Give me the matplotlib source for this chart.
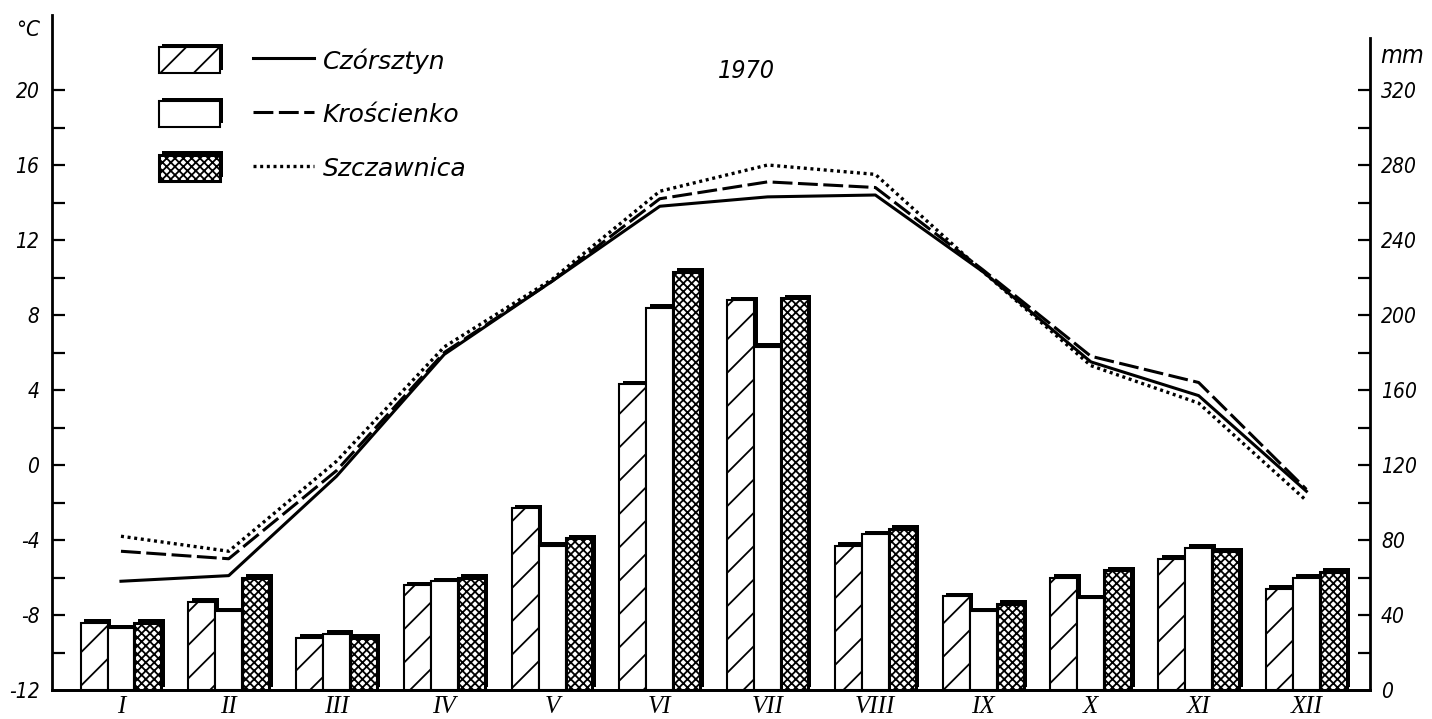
import numpy as np
import matplotlib
matplotlib.use('Agg')
import matplotlib.pyplot as plt
import matplotlib.patheffects as pe
from matplotlib.legend_handler import HandlerTuple

# Months (roman numerals) and stations
months = ['I', 'II', 'III', 'IV', 'V', 'VI', 'VII', 'VIII', 'IX', 'X', 'XI', 'XII']
stations = ['Czórsztyn', 'Krościenko', 'Szczawnica']

# Monthly precipitation (mm)
czorsztyn_mm = [36, 47, 28, 56, 97, 163, 208, 77, 50, 60, 70, 54]
kroscienko_mm = [33, 42, 30, 58, 77, 204, 183, 83, 42, 49, 76, 60]
szczawnica_mm = [36, 60, 28, 60, 81, 223, 209, 86, 46, 64, 74, 63]

# Monthly mean temperature (deg C)
czorsztyn_t = [-6.2, -5.9, -0.6, 5.9, 9.8, 13.8, 14.3, 14.4, 10.3, 5.5, 3.7, -1.4]
kroscienko_t = [-4.6, -5.0, -0.3, 6.0, 9.8, 14.2, 15.1, 14.8, 10.4, 5.8, 4.4, -1.3]
szczawnica_t = [-3.8, -4.6, 0.2, 6.3, 9.9, 14.6, 16.0, 15.5, 10.3, 5.3, 3.3, -1.9]

year = '1970'

plt.rcParams['hatch.linewidth'] = 1.3

lab_font = dict(family='DejaVu Sans', style='italic', stretch='condensed')
leg_font = dict(family='DejaVu Sans', style='italic')
roman_font = dict(family='Liberation Serif', style='italic')

fig = plt.figure(figsize=(14.32, 7.19), dpi=100)
ax = fig.add_axes([52/1432, 29/719, 1318/1432, 675/719])
ax2 = ax.twinx()

x = np.arange(len(months))
w = 0.25

def shadow():
    return pe.SimplePatchShadow(offset=(2.5, 2.5), shadow_rgbFace='black', alpha=1.0)

# precipitation bars on the mm axis
b1 = ax2.bar(x - w, czorsztyn_mm, w, facecolor='white', edgecolor='black',
             hatch='/', linewidth=1.5, zorder=2)
b2 = ax2.bar(x, kroscienko_mm, w, facecolor='white', edgecolor='black',
             linewidth=1.5, zorder=2)
b3 = ax2.bar(x + w, szczawnica_mm, w, facecolor='white', edgecolor='black',
             hatch='xxxx', linewidth=2.2, zorder=2)
for p in b1.patches + b2.patches + b3.patches:
    p.set_path_effects([shadow(), pe.Normal()])

# temperature lines on the deg C axis
l1, = ax.plot(x, czorsztyn_t, color='black', lw=2.2, zorder=3)
l2, = ax.plot(x, kroscienko_t, color='black', lw=2.2, zorder=3)
l2.set_dashes([6.5, 1.8])
l3, = ax.plot(x, szczawnica_t, color='black', lw=2.4, linestyle=(0, (0.9, 1.1)), zorder=3)

ax.set_xlim(-0.64, 11.59)
ax.set_ylim(-12, 24)
ax2.set_ylim(0, 360)

# spines
for a in (ax, ax2):
    a.spines['top'].set_visible(False)
    for s in a.spines.values():
        s.set_linewidth(2)
ax.spines['right'].set_visible(False)
ax2.spines['left'].set_visible(False)
ax2.spines['right'].set_bounds(0, 348)

# ticks
ax.set_xticks(x)
ax.set_xticklabels(months, fontsize=18, **roman_font)
ax.tick_params(axis='x', length=0, pad=4)
ax.set_yticks(np.arange(-12, 21, 4))
ax.set_yticks(np.arange(-10, 21, 2), minor=True)
ax.set_yticklabels([str(v) for v in range(-12, 21, 4)])
ax.tick_params(axis='y', which='both', direction='in', length=9, width=1.6, pad=9, labelsize=15)
ax2.set_yticks(np.arange(0, 321, 40))
ax2.set_yticks(np.arange(20, 301, 40), minor=True)
ax2.tick_params(axis='y', which='both', direction='in', length=9, width=1.6, pad=8, labelsize=15)
for lab in ax.get_yticklabels() + ax2.get_yticklabels():
    lab.set_fontstyle('italic')
    lab.set_fontstretch('condensed')
# no tick mark at the baseline
ax.yaxis.get_major_ticks()[0].tick1line.set_visible(False)
ax2.yaxis.get_major_ticks()[0].tick2line.set_visible(False)

# legend: patch + line per station
handles = [(b1.patches[0], l1), (b2.patches[0], l2), (b3.patches[0], l3)]
leg = ax.legend(handles, stations, loc='upper left', bbox_to_anchor=(0.081, 0.952),
                frameon=False, handler_map={tuple: HandlerTuple(ndivide=None, pad=1.3)},
                handlelength=6.2, handleheight=1.2, labelspacing=1.1, handletextpad=0.35,
                borderpad=0, borderaxespad=0, prop=dict(size=18, **leg_font))

ax.text(5.8, 21.0, year, fontsize=18, ha='center', va='center', **lab_font)
fig.text(16/1432, 1 - 30/719, '°C', fontsize=16, ha='left', va='center', **lab_font)
fig.text(1380/1432, 1 - 56/719, 'mm', fontsize=18, ha='left', va='center', **lab_font)

fig.savefig('out.png', dpi=100)
